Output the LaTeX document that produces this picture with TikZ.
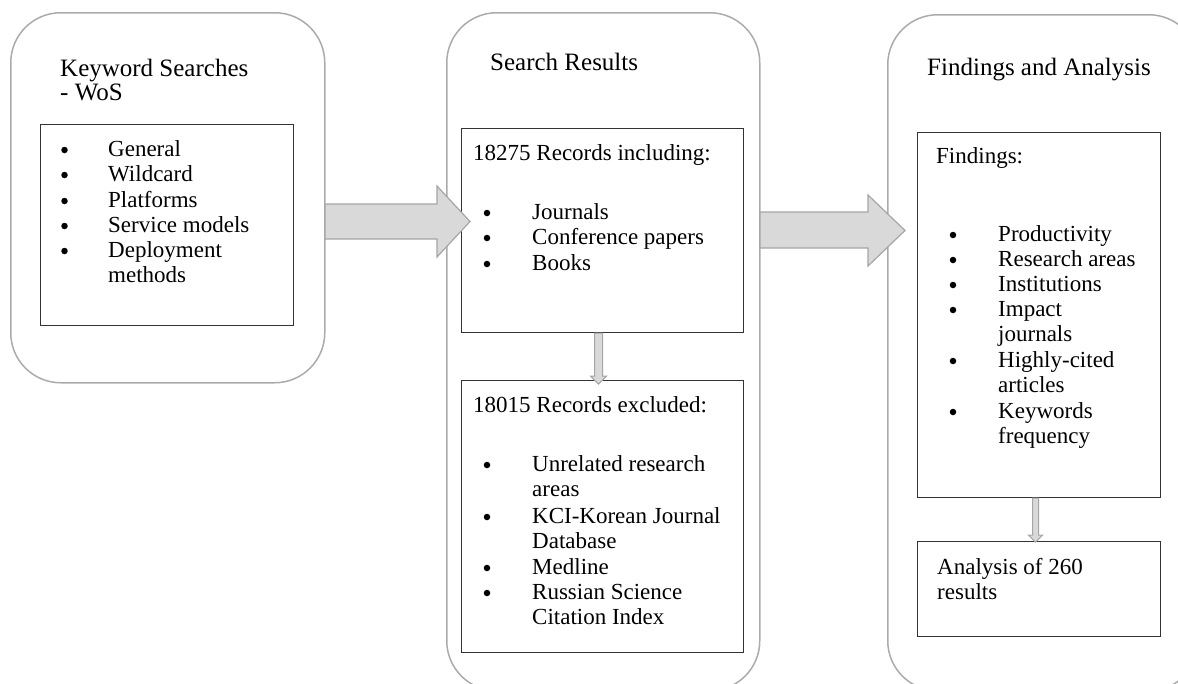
\documentclass[tikz,border=0pt]{standalone}
\usepackage{fontspec}
\setmainfont{Liberation Serif}
\usetikzlibrary{calc}
\begin{document}
\begin{tikzpicture}[x=1pt,y=-1pt,
  outer/.style={draw=black!33, line width=1.5pt, rounded corners=50pt, anchor=north west, inner sep=0pt},
  inner/.style={draw=black!80, line width=1.1pt, anchor=north west, inner sep=0pt},
  ttl/.style={font=\fontsize{25}{28}\selectfont, anchor=base west, inner sep=0pt},
  txt/.style={font=\fontsize{23}{25.3}\selectfont, anchor=base west, inner sep=0pt, align=left},
  bulc/.style={circle, fill=black, inner sep=0pt, minimum size=6.5pt},
  bigarrow/.style={fill=black!15, draw=black!35, line width=1.2pt},
  smallarrow/.style={fill=black!15, draw=black!35, line width=1pt}]
\useasboundingbox (0,0) rectangle (1178,683);
\clip (0,0) rectangle (1178,683);
% outer rounded panels
\node[outer, minimum width=314pt, minimum height=370pt] (kw) at (10,12) {};
\node[outer, minimum width=313pt, minimum height=678pt] (sr) at (446,12) {};
\node[outer, minimum width=311pt, minimum height=676pt] (fa) at (887,14) {};
% inner boxes
\node[inner, minimum width=253pt, minimum height=201pt] (kwl) at (40,124) {};
\node[inner, minimum width=282pt, minimum height=204pt] (sr1) at (461,128) {};
\node[inner, minimum width=282pt, minimum height=272pt] (sr2) at (461,380) {};
\node[inner, minimum width=243pt, minimum height=365pt] (fa1) at (917,132) {};
\node[inner, minimum width=243pt, minimum height=95pt] (fa2) at (917,541) {};
% big arrows
\draw[bigarrow] (325,204) -- (437,204) -- (437,186) -- (470,221.5) -- (437,257) -- (437,239) -- (325,239) -- cycle;
\draw[bigarrow] (760,212) -- (868,212) -- (868,195) -- (905,230.5) -- (868,266) -- (868,248) -- (760,248) -- cycle;
% small arrows
\draw[smallarrow] ($(sr1.south)+(-8,0)$) -- ++(0,43) -- ++(-4,0) -- ++(8,8) -- ++(8,-8) -- ++(-4,0) -- ++(0,-43) -- cycle;
\draw[smallarrow] ($(fa1.south)+(-6.5,0)$) -- ++(0,37) -- ++(-4,0) -- ++(7,7) -- ++(7,-7) -- ++(-4,0) -- ++(0,-37) -- cycle;
% titles
\node[ttl] (t1) at (60,76) {Keyword Searches};
\node[ttl] (t1b) at (60,100) {- WoS};
\node[ttl] (t2) at (490,70) {Search Results};
\node[ttl] (t3) at (927,75) {Findings and Analysis};
% left list
\foreach \y/\t [count=\i] in {156/General,181/Wildcard,207/Platforms,232/Service models,257/Deployment} {
  \node[bulc] (kb\i) at (64.5,\y-6) {};
  \node[txt] (kt\i) at (108,\y) {\t};
}
\node[txt] (kt6) at (108,282) {methods};
% middle top
\node[txt] (s1h) at (473,160) {18275 Records including:};
\foreach \y/\t [count=\i] in {219/Journals,244/Conference papers,270/Books} {
  \node[bulc] (sb\i) at (487,\y-6) {};
  \node[txt] (st\i) at (532,\y) {\t};
}
% middle bottom
\node[txt] (s2h) at (473,412) {18015 Records excluded:};
\foreach \y [count=\i] in {471,523,574,599} {
  \node[bulc] (eb\i) at (487,\y-6) {};
}
\node[txt] (et1) at (532,471) {Unrelated research};
\node[txt] (et1b) at (532,496) {areas};
\node[txt] (et2) at (532,523) {KCI-Korean Journal};
\node[txt] (et2b) at (532,548) {Database};
\node[txt] (et3) at (532,574) {Medline};
\node[txt] (et4) at (532,599) {Russian Science};
\node[txt] (et4b) at (532,624) {Citation Index};
% right top
\node[txt] (f1h) at (936,163) {Findings:};
\foreach \y [count=\i] in {241,266,291,316,367,418} {
  \node[bulc] (fb\i) at (953,\y-6) {};
}
\node[txt] (ft1) at (998,241) {Productivity};
\node[txt] (ft2) at (998,266) {Research areas};
\node[txt] (ft3) at (998,291) {Institutions};
\node[txt] (ft4) at (998,316) {Impact};
\node[txt] (ft4b) at (998,341) {journals};
\node[txt] (ft5) at (998,367) {Highly-cited};
\node[txt] (ft5b) at (998,392) {articles};
\node[txt] (ft6) at (998,418) {Keywords};
\node[txt] (ft6b) at (998,443) {frequency};
% right bottom
\node[txt] (f2a) at (937,574) {Analysis of 260};
\node[txt] (f2b) at (937,599) {results};
\end{tikzpicture}
\end{document}
